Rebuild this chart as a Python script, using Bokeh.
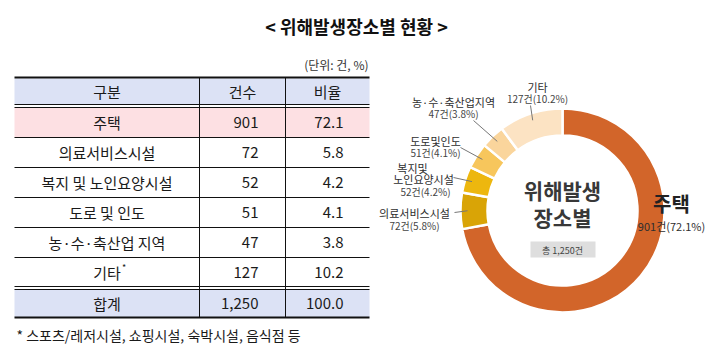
import math
from bokeh.plotting import figure
from bokeh.models import Range1d
from bokeh.core.properties import value
from bokeh.embed import file_html
from bokeh.resources import INLINE

# ---------------- data ----------------
title = "< 위해발생장소별 현황 >"
unit_note = "(단위: 건, %)"
headers = ["구분", "건수", "비율"]
categories = ["주택", "의료서비스시설", "복지 및 노인요양시설", "도로 및 인도", "농·수·축산업 지역", "기타"]
counts = [901, 72, 52, 51, 47, 127]
ratios = [72.1, 5.8, 4.2, 4.1, 3.8, 10.2]
total_label = "합계"
total_count = 1250
total_ratio = 100.0
footnote = "* 스포츠/레저시설, 쇼핑시설, 숙박시설, 음식점 등"
donut_names = [["주택"], ["의료서비스시설"], ["복지및", "노인요양시설"], ["도로및인도"], ["농·수·축산업지역"], ["기타"]]
donut_colors = ["#D2652A", "#D9A406", "#EDB70E", "#F7C65C", "#FAD59C", "#FCE3C3"]
center_title = ["위해발생", "장소별"]
center_total = "총 1,250건"

FONT = value("Noto Sans CJK KR")
W, H = 720, 352


def Y(py):
    return H - py


p = figure(width=W, height=H, x_range=Range1d(0, W), y_range=Range1d(0, H),
           output_backend="svg", toolbar_location=None, min_border=0)
p.axis.visible = False
p.grid.visible = False
p.outline_line_color = None
p.background_fill_color = "white"
p.border_fill_color = "white"


def txt(x, y, t, size, align="center", bold=False, color="#1a1a1a", baseline="middle"):
    p.text(x=[x], y=[Y(y)], text=[t], text_font=FONT, text_font_size=size,
           text_align=align, text_baseline=baseline,
           text_font_style="bold" if bold else "normal", text_color=color)


# ---------------- title ----------------
txt(356, 25, title, "18px", bold=True, color="#111111")
txt(368, 64, unit_note, "12px", align="right", color="#333333")

# ---------------- table ----------------
x0, x1, x2, x3 = 14, 199, 285, 369
top = 77
hdr_bottom = 104
body_top = 107
row_h = 30
n = len(categories)
body_bottom = body_top + n * row_h  # 287
tot_top = body_bottom + 2
tot_bottom = tot_top + 28

lav = "#DCE2F5"
pink = "#FDE0E3"
p.quad(left=[x0], right=[x3], top=[Y(top + 1)], bottom=[Y(hdr_bottom)], fill_color=lav, line_color=None)
p.quad(left=[x0], right=[x3], top=[Y(body_top)], bottom=[Y(body_top + row_h)], fill_color=pink, line_color=None)
p.quad(left=[x0], right=[x3], top=[Y(tot_top)], bottom=[Y(tot_bottom)], fill_color=lav, line_color=None)

# horizontal lines
p.segment(x0=[x0], x1=[x3], y0=[Y(top)], y1=[Y(top)], line_color="#111111", line_width=2)
p.segment(x0=[x0, x0], x1=[x3, x3], y0=[Y(hdr_bottom), Y(body_top)], y1=[Y(hdr_bottom), Y(body_top)],
          line_color="#111111", line_width=1)
seps = [body_top + (i + 1) * row_h for i in range(n - 1)]
p.segment(x0=[x0] * len(seps), x1=[x3] * len(seps), y0=[Y(s) for s in seps], y1=[Y(s) for s in seps],
          line_color="#111111", line_width=1)
p.segment(x0=[x0, x0], x1=[x3, x3], y0=[Y(body_bottom - 1), Y(tot_top)], y1=[Y(body_bottom - 1), Y(tot_top)],
          line_color="#111111", line_width=1)
p.segment(x0=[x0], x1=[x3], y0=[Y(tot_bottom)], y1=[Y(tot_bottom)], line_color="#111111", line_width=2)
# vertical lines
p.segment(x0=[x1, x2], x1=[x1, x2], y0=[Y(top), Y(top)], y1=[Y(tot_bottom), Y(tot_bottom)],
          line_color="#111111", line_width=1)

# header text
hy = (top + hdr_bottom) / 2 + 0.5
txt((x0 + x1) / 2, hy, headers[0], "15px")
txt((x1 + x2) / 2, hy, headers[1], "15px")
txt((x2 + x3) / 2, hy, headers[2], "15px")

# body text
for i, (c, v, r) in enumerate(zip(categories, counts, ratios)):
    cy = body_top + i * row_h + row_h / 2
    txt((x0 + x1) / 2, cy, c, "15px")
    txt(x2 - 27, cy, f"{v:,}", "15px", align="right")
    txt(x3 - 26, cy, f"{r:.1f}", "15px", align="right")
    if c == "기타":
        txt((x0 + x1) / 2 + 15, cy - 5, "*", "9px", align="left")

ty = (tot_top + tot_bottom) / 2
txt((x0 + x1) / 2, ty, total_label, "15px")
txt(x2 - 27, ty, f"{total_count:,}", "15px", align="right")
txt(x3 - 26, ty, f"{total_ratio:.1f}", "15px", align="right")

txt(16, 334, footnote, "14px", align="left", color="#1a1a1a")

# ---------------- donut ----------------
cx, cyy = 562, 210
r_out, r_in = 102, 75
total = sum(counts)
starts, ends, mids = [], [], []
cum = 0.0
for v in counts:
    f0 = cum / total
    cum += v
    f1 = cum / total
    # clockwise from 12 o'clock
    starts.append(math.radians(90 - f1 * 360))
    ends.append(math.radians(90 - f0 * 360))
    mids.append(math.radians(90 - (f0 + f1) / 2 * 360))

p.annular_wedge(x=[cx] * len(counts), y=[Y(cyy)] * len(counts), inner_radius=r_in, outer_radius=r_out,
                start_angle=starts, end_angle=ends, direction="anticlock",
                fill_color=donut_colors, line_color="white", line_width=2.5)

# center title
txt(cx, 189, center_title[0], "21px", bold=True, color="#383838")
txt(cx, 216, center_title[1], "21px", bold=True, color="#383838")
p.quad(left=[cx - 32], right=[cx + 33], top=[Y(241)], bottom=[Y(257)], fill_color="#DEDEDE", line_color=None)
txt(cx, 249.5, center_total, "9px", color="#444444")

# labels (layout positions): x of name lines, y of name lines, y of count line, leader start
label_pos = [
    (671, [671], [203], 225, None),
    (414, [414], [212], 225, (454, 212)),
    (425, [412, 423], [167, 178], 191, (453, 177)),
    (435, [435], [140], 152, (460, 147)),
    (453, [453], [101], 113, (473, 120)),
    (537, [537], [86], 98, (530, 105)),
]
label_color = "#2e2e2e"
for i, (lx, name_xs, name_ys, count_y, lead) in enumerate(label_pos):
    names = donut_names[i]
    pct = f"{counts[i]}건({ratios[i]}%)"
    if i == 0:
        txt(name_xs[0], name_ys[0], names[0], "20px", bold=True, color="#222222")
        txt(lx, count_y, pct, "11px", color=label_color)
        continue
    for nm, nx, ny in zip(names, name_xs, name_ys):
        txt(nx, ny, nm, "11px", color=label_color)
    txt(lx, count_y, pct, "10px", color="#444444")
    if lead is not None:
        ex = cx + 95 * math.cos(mids[i])
        ey = cyy - 95 * math.sin(mids[i])
        p.segment(x0=[lead[0]], y0=[Y(lead[1])], x1=[ex], y1=[Y(ey)], line_color="#777777", line_width=1)

open("out.html", "w").write(file_html(p, INLINE))
